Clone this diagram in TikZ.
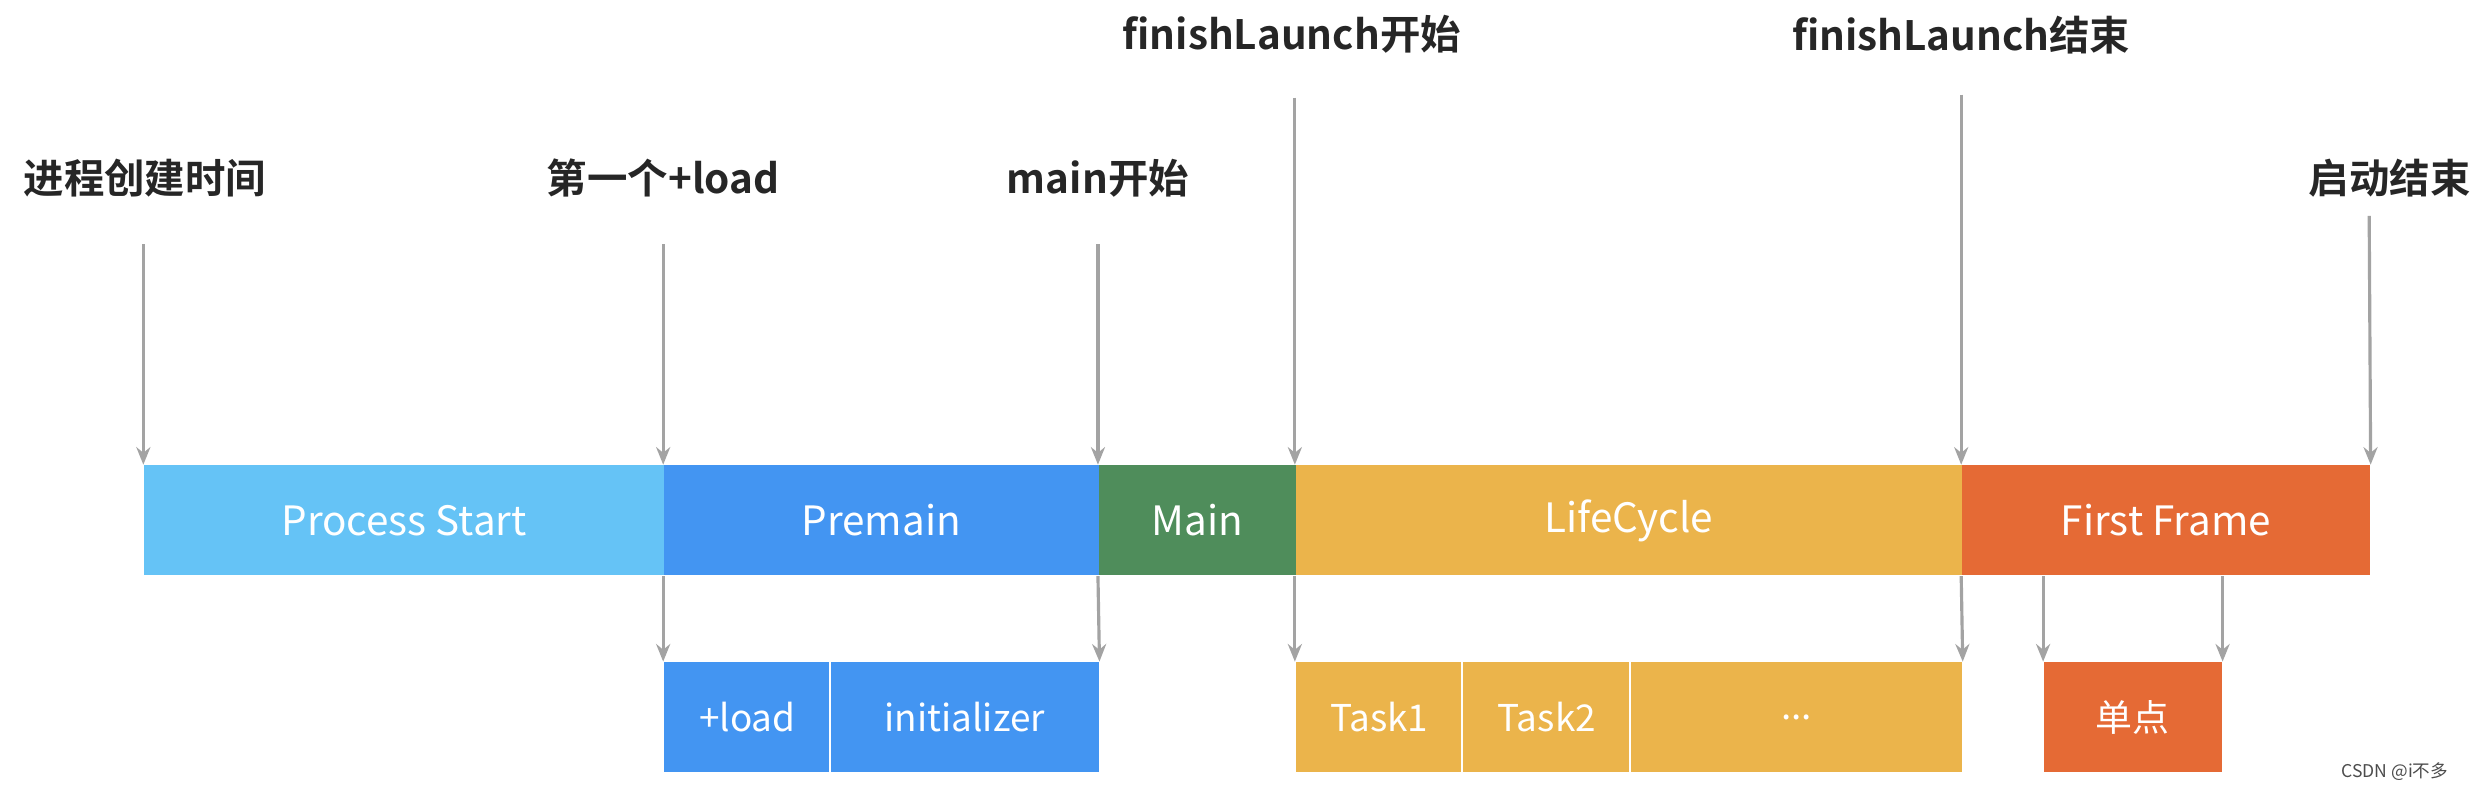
\documentclass[tikz,border=0pt]{standalone}
\usepackage{fontspec}
\setmainfont{Noto Sans CJK SC}[BoldFont={Noto Sans CJK SC Bold}]
\usepackage{xcolor}
\usepackage{tikz}
\usetikzlibrary{arrows.meta,positioning}
\definecolor{procblue}{HTML}{65C3F6}
\definecolor{preblue}{HTML}{4395F2}
\definecolor{maingreen}{HTML}{4F8D5B}
\definecolor{lifegold}{HTML}{EBB44B}
\definecolor{frameorange}{HTML}{E56A35}
\definecolor{tickgray}{HTML}{A3A3A3}

\tikzset{
  bar/.style={draw=none, fill=#1, text=white, anchor=north west, inner sep=0pt,
    minimum height=1.10cm, font=\fontsize{11.5}{13}\selectfont},
  sub/.style={draw=none, fill=#1, text=white, anchor=north west, inner sep=0pt,
    minimum height=1.10cm, font=\fontsize{10.5}{12}\selectfont},
  label/.style={font=\bfseries\fontsize{11.5}{13}\selectfont, text=black!85},
  tick/.style={-{Stealth[length=5pt,width=4pt]}, tickgray, line width=0.9pt}
}

\begin{document}
\begin{tikzpicture}[x=0.01575cm, y=-0.01575cm]
            \useasboundingbox (0,0) rectangle (1568,499);

            % Main timeline
            \node[bar=procblue, minimum width=5.198cm] (proc) at (91,295) {Process Start};
            \node[bar=preblue, minimum width=4.347cm] (pre) at (421,295) {Premain};
            \node[bar=maingreen, minimum width=1.969cm] (main) at (697,295) {Main};
            \node[bar=lifegold, minimum width=6.662cm] (life) at (822,295) {LifeCycle};
            \node[bar=frameorange, minimum width=4.079cm] (frame) at (1245,295) {First Frame};

            % Sub steps
            \node[sub=preblue, minimum width=1.670cm] (load) at (421,420) {+load};
            \node[sub=preblue, minimum width=2.678cm] (init) at (527,420) {initializer};
            \node[sub=lifegold, minimum width=1.670cm] (task1) at (822,420) {Task1};
            \node[sub=lifegold, minimum width=1.685cm] (task2) at (928,420) {Task2};
            \node[sub=lifegold, minimum width=3.308cm] (more) at (1035,420) {...};
            \node[sub=frameorange, minimum width=1.780cm] (single) at (1297,420) {单点};
            \draw[white, line width=0.6pt] (init.north west) -- (init.south west);
            \draw[white, line width=0.6pt] (task2.north west) -- (task2.south west);
            \draw[white, line width=0.6pt] (more.north west) -- (more.south west);

            % Milestones
            \node[label] (create) at (92,113) {进程创建时间};
            \node[label] (firstload) at (421,113) {第一个+load};
            \node[label] (mainstart) at (697,113) {main开始};
            \node[label] (launchstart) at (820,22) {finishLaunch开始};
            \node[label] (launchend) at (1245,22) {finishLaunch结束};
            \node[label] (done) at (1517,113) {启动结束};

            \coordinate (c1) at (91,155);
            \coordinate (c2) at (421,155);
            \coordinate (c3) at (697,155);
            \coordinate (c4) at (822,62);
            \coordinate (c5) at (1245,60);
            \coordinate (c6) at (1504,137);
            \draw[tick] (c1) -- (proc.north west);
            \draw[tick] (c2) -- (pre.north west);
            \draw[tick] (c3) -- (main.north west);
            \draw[tick] (c4) -- (life.north west);
            \draw[tick] (c5) -- (frame.north west);
            \draw[tick] (c6) -- (frame.north east);

            % Down to sub steps
            \draw[tick] (pre.south west) -- (load.north west);
            \draw[tick] (main.south west) -- (init.north east);
            \draw[tick] (life.south west) -- (task1.north west);
            \draw[tick] (frame.south west) -- (more.north east);
            \draw[tick] (single.north west |- frame.south) -- (single.north west);
            \draw[tick] (single.north east |- frame.south) -- (single.north east);

            \node[font=\fontsize{5}{6}\selectfont, text=black!70, anchor=east] (mark) at (1562,490) {CSDN @i不多};
\end{tikzpicture}
\end{document}
